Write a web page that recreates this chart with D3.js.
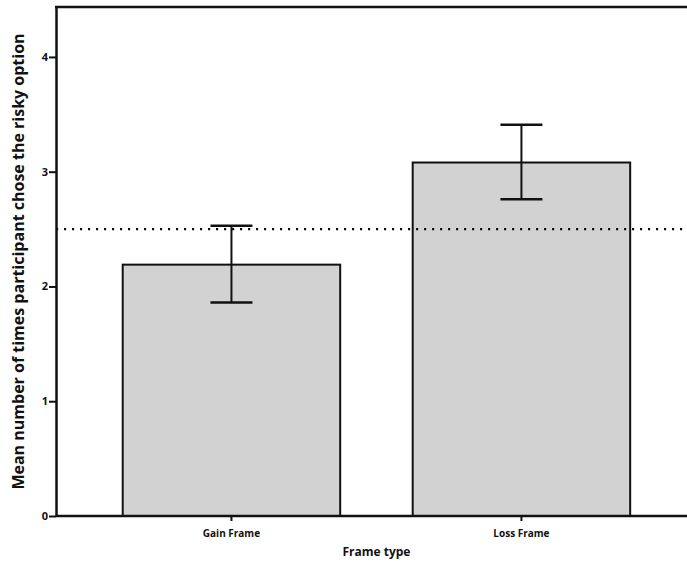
<!DOCTYPE html>
<html>
<head>
<meta charset="utf-8">
<script src="https://cdn.jsdelivr.net/npm/d3@7"></script>
<style>
  body { margin: 0; background: #fff; }
  text { font-family: "Open Sans", "DejaVu Sans", sans-serif; font-weight: bold; fill: #111; }
</style>
</head>
<body>
<div id="chart"></div>
<script>
// data
const categories = ["Gain Frame", "Loss Frame"];
const means = [2.19, 3.08];
const errLow = [1.86, 2.76];
const errHigh = [2.53, 3.41];
const yTicks = [0, 1, 2, 3, 4];
const refLine = [2.5];

const w = 687;
const h = 563;

const margin = { top: 7, bottom: 47, left: 56, right: 0 };

const svg = d3.select("#chart").append("svg")
  .attr("width", w)
  .attr("height", h);

const data = categories.map((c, i) => ({ cat: c, mean: means[i], lo: errLow[i], hi: errHigh[i] }));

///////////////////////////// Scales

const x = d3.scaleBand()
  .domain(categories)
  .range([margin.left, w - margin.right])
  .paddingInner(0.25)
  .paddingOuter(0.213)
  .align(0.54);

const y = d3.scaleLinear()
  .domain([0, 4.435])
  .range([h - margin.bottom, margin.top]);

///////////////////////////// Bars

svg.selectAll("rect.bar")
  .data(data)
  .enter().append("rect")
  .attr("class", "bar")
  .attr("x", d => x(d.cat))
  .attr("y", d => y(d.mean))
  .attr("width", x.bandwidth())
  .attr("height", d => y(0) - y(d.mean))
  .attr("fill", "#d2d2d2")
  .attr("stroke", "#111")
  .attr("stroke-width", 2);

///////////////////////////// Reference line

svg.selectAll("line.ref")
  .data(refLine)
  .enter().append("line")
  .attr("class", "ref")
  .attr("x1", margin.left)
  .attr("x2", w)
  .attr("y1", d => y(d))
  .attr("y2", d => y(d))
  .attr("stroke", "#111")
  .attr("stroke-width", 2.2)
  .attr("stroke-dasharray", "2.2,5.8");

///////////////////////////// Error bars

const cap = 21;
const eb = svg.selectAll("g.err")
  .data(data)
  .enter().append("g")
  .attr("class", "err");

eb.append("line")
  .attr("x1", d => x(d.cat) + x.bandwidth() / 2)
  .attr("x2", d => x(d.cat) + x.bandwidth() / 2)
  .attr("y1", d => y(d.lo))
  .attr("y2", d => y(d.hi))
  .attr("stroke", "#111")
  .attr("stroke-width", 2);

eb.append("line")
  .attr("x1", d => x(d.cat) + x.bandwidth() / 2 - cap)
  .attr("x2", d => x(d.cat) + x.bandwidth() / 2 + cap)
  .attr("y1", d => y(d.hi))
  .attr("y2", d => y(d.hi))
  .attr("stroke", "#111")
  .attr("stroke-width", 2.5);

eb.append("line")
  .attr("x1", d => x(d.cat) + x.bandwidth() / 2 - cap)
  .attr("x2", d => x(d.cat) + x.bandwidth() / 2 + cap)
  .attr("y1", d => y(d.lo))
  .attr("y2", d => y(d.lo))
  .attr("stroke", "#111")
  .attr("stroke-width", 2.5);

///////////////////////////// Axes

const xAxis = svg.append("g")
  .attr("transform", "translate(0," + y(0) + ")")
  .call(d3.axisBottom(x).tickSize(5).tickSizeOuter(0));

const yAxis = svg.append("g")
  .attr("transform", "translate(" + margin.left + ",0)")
  .call(d3.axisLeft(y).tickValues(yTicks).tickFormat(d3.format("d")).tickSize(7).tickSizeOuter(0));

[xAxis, yAxis].forEach(a => {
  a.select(".domain").attr("stroke", "#111").attr("stroke-width", 2.5);
  a.selectAll(".tick line").attr("stroke", "#111").attr("stroke-width", 2);
  a.selectAll("text").style("font-size", "10px").attr("fill", "#111");
});
yAxis.selectAll("text").style("font-size", "11px");
xAxis.select(".domain").attr("d", "M" + margin.left + ",0H" + w);
xAxis.selectAll("text").attr("dy", "1.3em");
yAxis.selectAll("text").attr("x", -8);

// top frame line
svg.append("line")
  .attr("x1", margin.left - 1)
  .attr("x2", w)
  .attr("y1", margin.top)
  .attr("y2", margin.top)
  .attr("stroke", "#111")
  .attr("stroke-width", 2.5);

///////////////////////////// Titles

svg.append("text")
  .attr("x", (x("Gain Frame") + x("Loss Frame") + x.bandwidth()) / 2)
  .attr("y", 556)
  .attr("text-anchor", "middle")
  .style("font-size", "12px")
  .text("Frame type");

svg.append("text")
  .attr("transform", "translate(24," + (margin.top + y(0)) / 2 + ") rotate(-90)")
  .attr("text-anchor", "middle")
  .style("font-size", "16px")
  .text("Mean number of times participant chose the risky option");
</script>
</body>
</html>
